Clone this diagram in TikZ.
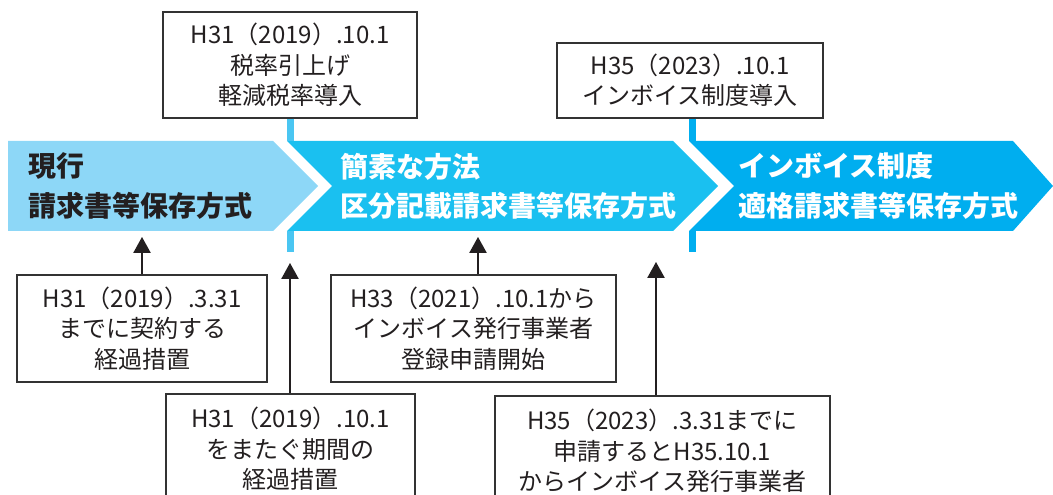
\documentclass[tikz,border=0pt]{standalone}
\usepackage{fontspec}
\setmainfont{Noto Sans CJK JP}
\usetikzlibrary{arrows.meta}

\definecolor{bandone}{HTML}{8DD7F7}
\definecolor{bandtwo}{HTML}{1AC0F0}
\definecolor{bandthree}{HTML}{00AEEF}
\definecolor{markone}{HTML}{4AC6F2}
\definecolor{ink}{HTML}{231F20}
\definecolor{frame}{HTML}{333333}

\begin{document}
\begin{tikzpicture}[x=0.75pt,y=-0.75pt,>={Triangle[length=12pt,width=13pt]},
    box/.style={draw=frame,line width=1pt,fill=white,align=center,inner sep=0pt,text=ink,font=\fontsize{18}{22.8}\selectfont},
    bandtext/.style={anchor=west,align=left,inner sep=0pt,font=\bfseries\fontsize{21}{29.3}\selectfont},
    pointer/.style={->,draw=ink,line width=1.1pt}]
                \path[use as bounding box,clip](0,0)rectangle(1053,495);
                % the three periods
                \fill[bandone](8,141)--(273,141)--(318,186)--(273,231)--(8,231)--cycle;
                \fill[bandtwo](287,141)--(673,141)--(718,186)--(673,231)--(287,231)--(332,186)--cycle;
                \fill[bandthree](689,141)--(1013,141)--(1053,186)--(1013,231)--(689,231)--(734,186)--cycle;
                \node[bandtext,text=ink](now)at(28, 186){現行\\請求書等保存方式};
                \node[bandtext,text=white](kubun)at(340, 186){簡素な方法\\区分記載請求書等保存方式};
                \node[bandtext,text=white](invoice)at(738, 186){インボイス制度\\適格請求書等保存方式};

                % dates above
                \node[box,minimum width=190.5pt,minimum height=79.5pt](A)at(290, 65){H31（2019）.10.1\\税率引上げ\\軽減税率導入};
                \node[box,minimum width=199.5pt,minimum height=56.25pt](B)at(690, 80.5){H35（2023）.10.1\\インボイス制度導入};
                \coordinate(l1top)at(290, 141);
                \coordinate(l1low)at(290, 231);
                \coordinate(l1)at(290, 252);
                \coordinate(l2top)at(692, 141);
                \coordinate(l2low)at(692, 231);
                \coordinate(l2)at(692, 252);
                \draw[markone,line width=5.25pt](A.south)--(l1top) (l1low)--(l1);
                \draw[bandthree,line width=5.25pt](l2 |- B.south)--(l2top) (l2low)--(l2);

                % notes below
                \node[box,minimum width=187.5pt,minimum height=80.25pt](C)at(142, 328.5){H31（2019）.3.31\\までに契約する\\経過措置};
                \node[box,minimum width=213.75pt,minimum height=80.25pt](E)at(473.5, 328.5){H33（2021）.10.1から\\インボイス発行事業者\\登録申請開始};
                \node[box,minimum width=186.75pt,minimum height=82.5pt](D)at(290.5, 449){H31（2019）.10.1\\をまたぐ期間の\\経過措置};
                \node[box,minimum width=251.25pt,minimum height=82.5pt](F)at(662.5, 451){H35（2023）.3.31までに\\申請するとH35.10.1\\からインボイス発行事業者};
                \coordinate(pC)at(142, 237);
                \coordinate(pE)at(478, 237);
                \coordinate(pD)at(290, 263);
                \coordinate(pF)at(656, 262);
                \draw[pointer](C.north)--(pC);
                \draw[pointer](pE |- E.north)--(pE);
                \draw[pointer](pD |- D.north)--(pD);
                \draw[pointer](pF |- F.north)--(pF);
\end{tikzpicture}
\end{document}
